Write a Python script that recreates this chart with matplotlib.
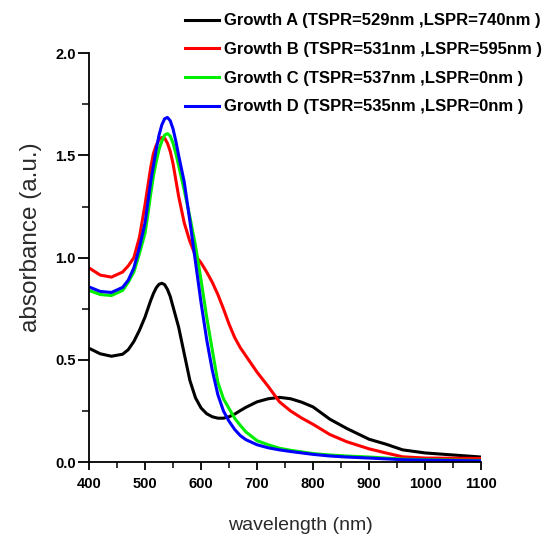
import matplotlib
matplotlib.use("Agg")
import matplotlib.pyplot as plt
from matplotlib.ticker import MultipleLocator, FormatStrFormatter

plt.rcParams['font.family'] = ['Liberation Sans', 'DejaVu Sans']

# wavelength grid (nm)
wavelength = [400, 420, 440, 460, 470, 480, 490, 500, 505, 510, 515, 520, 525,
              530, 535, 540, 545, 550, 555, 560, 570, 580, 590, 600, 610, 620,
              630, 640, 650, 660, 670, 680, 700, 720, 740, 760, 780, 800, 830,
              860, 900, 930, 960, 1000, 1050, 1100]

growth_a = [0.557, 0.53, 0.518, 0.528, 0.55, 0.59, 0.645, 0.71, 0.75, 0.79,
            0.825, 0.853, 0.87, 0.875, 0.868, 0.845, 0.81, 0.76, 0.71, 0.66,
            0.53, 0.40, 0.315, 0.265, 0.237, 0.222, 0.215, 0.215, 0.222, 0.235,
            0.252, 0.268, 0.295, 0.31, 0.317, 0.31, 0.293, 0.27, 0.21, 0.165,
            0.112, 0.088, 0.06, 0.045, 0.035, 0.025]

growth_b = [0.95, 0.915, 0.905, 0.93, 0.96, 1.0, 1.10, 1.26, 1.35, 1.44, 1.51,
            1.55, 1.578, 1.588, 1.585, 1.56, 1.52, 1.46, 1.38, 1.30, 1.17, 1.08,
            1.01, 0.975, 0.93, 0.88, 0.82, 0.75, 0.675, 0.61, 0.56, 0.52, 0.44,
            0.37, 0.295, 0.25, 0.215, 0.185, 0.135, 0.10, 0.065, 0.045, 0.026,
            0.02, 0.019, 0.018]

growth_c = [0.84, 0.82, 0.815, 0.84, 0.88, 0.93, 1.02, 1.12, 1.21, 1.31, 1.40,
            1.47, 1.53, 1.57, 1.60, 1.607, 1.595, 1.56, 1.51, 1.45, 1.33, 1.20,
            1.06, 0.89, 0.71, 0.55, 0.39, 0.31, 0.262, 0.215, 0.18, 0.148, 0.105,
            0.085, 0.068, 0.058, 0.05, 0.042, 0.035, 0.03, 0.025, 0.02, 0.015,
            0.012, 0.01, 0.008]

growth_d = [0.857, 0.835, 0.83, 0.855, 0.89, 0.95, 1.05, 1.17, 1.27, 1.37, 1.45,
            1.53, 1.60, 1.65, 1.68, 1.686, 1.67, 1.63, 1.57, 1.50, 1.37, 1.18,
            0.98, 0.78, 0.60, 0.45, 0.33, 0.25, 0.20, 0.16, 0.13, 0.11, 0.085,
            0.07, 0.06, 0.052, 0.045, 0.038, 0.03, 0.025, 0.02, 0.016, 0.012,
            0.01, 0.008, 0.006]

labels = ["Growth A (TSPR=529nm ,LSPR=740nm )",
          "Growth B (TSPR=531nm ,LSPR=595nm )",
          "Growth C (TSPR=537nm ,LSPR=0nm )",
          "Growth D (TSPR=535nm ,LSPR=0nm )"]
colors = ["#000000", "#ff0000", "#00ee00", "#0000ff"]

fig = plt.figure(figsize=(5.53, 5.38), dpi=100)
ax = fig.add_axes([0.161, 0.141, 0.709, 0.760])

for series, lab, col in zip([growth_a, growth_b, growth_c, growth_d], labels, colors):
    ax.plot(wavelength, series, color=col, lw=2.2, label=lab)

ax.set_xlim(400, 1100)
ax.set_ylim(0, 2.0)
ax.xaxis.set_major_locator(MultipleLocator(100))
ax.xaxis.set_minor_locator(MultipleLocator(50))
ax.yaxis.set_major_locator(MultipleLocator(0.5))
ax.yaxis.set_minor_locator(MultipleLocator(0.25))
ax.yaxis.set_major_formatter(FormatStrFormatter('%.1f'))

for side in ['top', 'right']:
    ax.spines[side].set_visible(False)
for side in ['left', 'bottom']:
    ax.spines[side].set_linewidth(1.3)

ax.tick_params(axis='x', which='major', direction='out', length=6, width=1.3, pad=5)
ax.tick_params(axis='y', which='major', direction='out', length=8, width=1.3, pad=1.5)
ax.tick_params(axis='x', which='minor', direction='out', length=4, width=1.1)
ax.tick_params(axis='y', which='minor', direction='out', length=5, width=1.1)
for t in ax.get_xticklabels() + ax.get_yticklabels():
    t.set_fontweight('bold')
    t.set_fontsize(10.5)

ax.set_xlabel("wavelength (nm)", fontsize=14, color='#2a2a2a')
ax.set_ylabel("absorbance (a.u.)", fontsize=17.5, color='#2a2a2a')
ax.xaxis.set_label_coords(0.538, -0.135)
ax.yaxis.set_label_coords(-0.12, 0.55)

fig.legend(loc='upper left', bbox_to_anchor=(0.335, 0.975), frameon=False,
           prop={'weight': 'bold', 'size': 12},
           handlelength=2.0, handletextpad=0.3, labelspacing=0.82,
           borderpad=0, borderaxespad=0)

fig.savefig("out.png", dpi=100)
